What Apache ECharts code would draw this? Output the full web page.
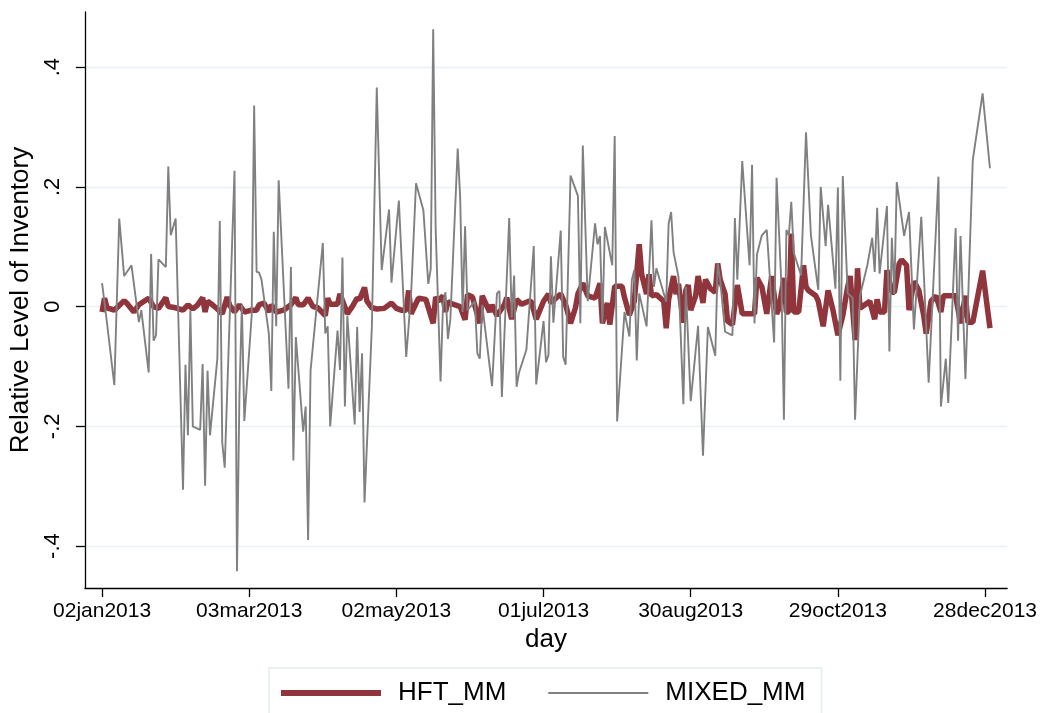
<!DOCTYPE html>
<html><head><meta charset="utf-8">
<script src="https://cdn.jsdelivr.net/npm/echarts@6/dist/echarts.min.js"></script>
<style>html,body{margin:0;padding:0;background:#fff}#c{width:1040px;height:713px}</style>
</head><body><div id="c"></div>
<script>
// x values are day-of-year offsets (2013-01-01 = 0)
const tickDays = [1, 61, 121, 181, 241, 301, 361];
const tickLabels = ['02jan2013','03mar2013','02may2013','01jul2013','30aug2013','29oct2013','28dec2013'];
const yTicks = [-0.4, -0.2, 0, 0.2, 0.4];
const yTickLabels = ['-.4', '-.2', '0', '.2', '.4'];

const hftDays = [1,2,3,6,10,11,14,16,20,22,24,27,28,31,34,36,38,40,42,43,44,46,48,50,52,53,55,57,59,62,64,65,67,69,70,72,75,78,80,81,83,85,87,89,92,93,94,97,98,101,103,105,106,108,109,111,113,116,119,121,123,125,126,127,130,133,136,137,138,140,141,142,144,147,149,150,152,155,156,158,159,160,162,163,165,166,168,170,172,175,176,178,181,183,184,186,188,190,192,194,195,197,199,202,204,205,207,208,210,213,214,216,218,220,221,223,224,225,227,230,231,232,234,235,236,238,239,240,241,243,244,246,247,249,251,252,253,255,256,258,260,262,265,267,268,270,272,274,276,277,279,280,281,282,283,285,287,288,289,292,293,295,297,299,301,303,305,306,308,309,310,312,314,316,317,318,320,321,323,324,326,327,329,330,332,334,336,337,339,341,343,344,347,349,351,353,354,356,360,363];
const hftValues = [-0.009,0.014,-0.002,-0.006,0.010,0.006,-0.009,0.003,0.014,0.000,-0.003,0.015,0.000,-0.002,-0.006,0.003,-0.004,0.003,0.015,-0.009,0.009,0.003,-0.004,-0.012,0.016,0.002,-0.009,0.003,-0.009,-0.006,-0.006,0.003,0.006,-0.009,0.003,-0.009,-0.006,0.003,0.015,0.003,0.003,0.014,0.000,-0.002,-0.015,0.014,0.004,0.004,0.021,-0.012,0.000,0.014,0.012,0.032,0.009,-0.002,-0.004,-0.003,0.006,-0.003,-0.006,-0.006,0.027,-0.012,0.014,0.012,-0.028,0.016,0.009,0.018,-0.009,0.008,0.004,0.000,-0.022,0.020,0.016,-0.028,0.018,0.000,-0.009,0.003,-0.015,-0.009,0.003,0.015,-0.021,0.012,0.004,0.009,0.008,-0.021,0.009,0.021,0.006,0.014,0.021,0.003,-0.028,-0.002,0.021,0.039,0.018,0.014,0.039,-0.028,0.006,-0.030,0.034,0.034,0.015,-0.014,0.009,0.104,0.054,0.021,0.054,0.018,0.020,0.009,-0.036,0.012,0.051,0.021,0.038,-0.027,0.027,0.036,-0.006,0.018,0.051,0.006,0.045,0.030,0.024,0.072,0.045,0.021,-0.024,-0.030,0.036,-0.012,-0.012,-0.012,0.048,0.033,-0.012,0.051,-0.012,-0.003,0.048,-0.009,-0.009,0.122,-0.009,-0.009,0.069,0.033,0.027,0.018,0.009,-0.033,0.027,-0.006,-0.048,-0.015,0.033,0.051,-0.056,0.064,-0.003,0.003,0.009,-0.021,0.012,-0.009,-0.009,0.061,0.024,0.024,0.072,0.078,0.069,-0.006,0.042,0.027,-0.015,-0.045,0.009,0.018,-0.009,0.018,0.018,0.018,-0.028,0.018,-0.026,-0.026,0.060,-0.036];

const mixedDays = [1,3,6,8,10,13,16,17,20,21,22,23,24,27,28,29,31,34,35,36,37,38,41,42,43,44,45,48,49,50,51,55,56,57,58,59,62,63,64,65,66,69,70,71,72,73,77,78,79,80,83,84,85,86,91,92,93,94,97,98,99,100,101,104,105,106,107,108,111,113,115,118,119,122,125,127,129,132,134,135,136,137,139,140,141,142,143,146,147,148,149,150,153,154,155,156,160,162,163,164,167,168,169,170,171,174,177,178,181,182,183,184,185,188,189,190,192,195,196,197,199,202,203,204,205,206,209,210,211,214,216,217,218,219,220,223,225,226,227,231,232,233,234,236,238,239,241,244,246,248,251,252,253,255,258,259,260,262,265,266,267,268,270,272,275,276,278,279,280,281,282,283,286,288,290,293,294,296,297,300,301,302,303,305,307,308,310,313,315,316,317,318,321,322,323,324,325,328,330,332,335,338,342,343,345,346,349,350,351,353,356,360,363];
const mixedValues = [0.039,-0.027,-0.131,0.147,0.051,0.069,-0.026,-0.006,-0.110,0.088,-0.057,-0.048,0.079,0.066,0.234,0.119,0.147,-0.306,-0.097,-0.215,-0.006,-0.200,-0.206,-0.096,-0.299,-0.107,-0.215,-0.087,0.143,-0.227,-0.269,0.227,-0.442,-0.149,0.003,-0.191,-0.015,0.336,0.058,0.057,0.045,-0.045,-0.141,0.125,-0.033,0.211,-0.137,0.066,-0.257,-0.051,-0.209,-0.167,-0.390,-0.107,0.106,-0.045,-0.033,-0.200,-0.040,-0.106,0.082,-0.167,-0.015,-0.197,-0.034,-0.176,-0.078,-0.327,-0.033,0.366,0.061,0.162,0.040,0.177,-0.084,0.021,0.206,0.161,0.038,0.063,0.463,0.131,-0.125,0.003,0.024,-0.054,-0.021,0.264,0.182,-0.009,0.134,-0.006,0.009,-0.078,-0.087,0.003,-0.133,0.022,0.026,-0.151,0.148,-0.018,0.052,-0.134,-0.110,-0.072,0.101,-0.130,-0.024,-0.093,-0.081,0.084,-0.027,0.127,-0.084,-0.097,0.219,0.185,-0.028,0.269,0.009,0.139,0.104,0.118,-0.027,0.133,0.069,0.285,-0.192,-0.009,-0.050,0.045,0.061,-0.090,0.022,-0.033,0.144,0.033,0.064,0.008,0.139,0.158,0.091,0.050,-0.163,0.033,-0.158,-0.032,-0.249,-0.034,-0.082,0.072,0.045,-0.042,-0.048,0.148,0.045,0.243,0.069,0.237,-0.028,0.087,0.119,0.128,-0.060,0.215,0.033,-0.189,0.128,0.119,0.175,0.090,0.052,0.291,0.119,0.028,0.200,0.101,0.170,0.030,0.199,-0.124,0.218,0.022,0.015,-0.189,0.018,0.069,0.115,0.058,0.165,0.055,0.168,-0.075,0.115,0.021,0.208,0.118,0.158,-0.038,0.150,-0.127,0.217,-0.167,-0.087,-0.161,0.131,-0.057,0.118,-0.121,0.245,0.356,0.231];

const FONT = '"Liberation Sans", Arial, Helvetica, sans-serif';
const HFT_COLOR = '#90353b';
const MIXED_COLOR = '#808080';
const zip = (xs, ys) => xs.map((x, i) => [x, ys[i]]);
const lookup = (vals, labels) => v => {
  for (let i = 0; i < vals.length; i++) if (Math.abs(vals[i] - v) < 1e-9) return labels[i];
  return '';
};

const chart = echarts.init(document.getElementById('c'), null, {renderer: 'canvas'});
chart.setOption({
  animation: false,
  backgroundColor: '#ffffff',
  textStyle: {fontFamily: FONT},
  grid: {left: 84, right: 31, top: 12, bottom: 125, containLabel: false},
  legend: {
    left: 269, top: 668,
    padding: [12, 16, 40, 12],
    itemGap: 42, itemWidth: 100, itemHeight: 26,
    symbolKeepAspect: true,
    borderColor: '#e3edef', borderWidth: 1.5, backgroundColor: '#ffffff',
    textStyle: {fontSize: 26, color: '#000', fontFamily: FONT, padding: [0, 0, 0, 12]},
    data: [
      {name: 'HFT_MM', icon: 'path://M0,0H100V6H0Z', itemStyle: {color: HFT_COLOR}},
      {name: 'MIXED_MM', icon: 'path://M0,0H100V2H0Z', itemStyle: {color: MIXED_COLOR}}
    ]
  },
  xAxis: {
    type: 'value', min: -6, max: 370,
    axisLine: {show: true, onZero: false, lineStyle: {color: '#000', width: 1.3}},
    axisTick: {show: true, length: 9, customValues: tickDays, lineStyle: {color: '#000', width: 1.3}},
    axisLabel: {customValues: tickDays, formatter: lookup(tickDays, tickLabels), fontSize: 21, color: '#000', fontFamily: FONT, margin: 13},
    splitLine: {show: false},
    name: 'day', nameLocation: 'middle', nameGap: 37,
    nameTextStyle: {fontSize: 26, color: '#000', fontFamily: FONT}
  },
  yAxis: {
    type: 'value', min: -0.470, max: 0.492,
    axisLine: {show: true, onZero: false, lineStyle: {color: '#000', width: 1.3}},
    axisTick: {show: true, length: 9, customValues: yTicks, lineStyle: {color: '#000', width: 1.3}},
    axisLabel: {customValues: yTicks, formatter: lookup(yTicks, yTickLabels), rotate: 90, fontSize: 22, color: '#000', fontFamily: FONT, margin: 21},
    splitLine: {show: true, lineStyle: {color: '#e8f1f3', width: 1.3}},
    name: 'Relative Level of Inventory', nameLocation: 'middle', nameGap: 48, nameRotate: 90,
    nameTextStyle: {fontSize: 26, color: '#000', fontFamily: FONT}
  },
  series: [
    {name: 'HFT_MM', type: 'line', data: zip(hftDays, hftValues), symbol: 'none',
     lineStyle: {color: HFT_COLOR, width: 5.5}, itemStyle: {color: HFT_COLOR}, z: 2},
    {name: 'MIXED_MM', type: 'line', data: zip(mixedDays, mixedValues), symbol: 'none',
     lineStyle: {color: MIXED_COLOR, width: 1.9}, itemStyle: {color: MIXED_COLOR}, z: 3}
  ]
});
</script>
</body></html>
